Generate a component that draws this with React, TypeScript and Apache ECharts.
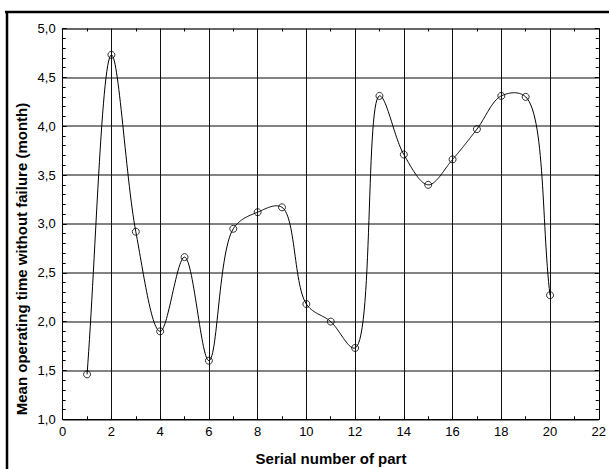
import React, { useEffect, useRef } from "react";
import * as echarts from "echarts";

const partNumbers = [1, 2, 3, 4, 5, 6, 7, 8, 9, 10, 11, 12, 13, 14, 15, 16, 17, 18, 19, 20];
const meanTime = [1.46, 4.73, 2.92, 1.9, 2.66, 1.6, 2.95, 3.12, 3.17, 2.18, 2.0, 1.73, 4.31, 3.71, 3.4, 3.66, 3.97, 4.31, 4.3, 2.27];
const xTitle = "Serial number of part";
const yTitle = "Mean operating time without failure (month)";

export default function App() {
  const ref = useRef<HTMLDivElement>(null);
  useEffect(() => {
    if (!ref.current) return;
    const chart = echarts.init(ref.current, null, { renderer: "svg" });
    const pts = partNumbers.map((x, i) => [x, meanTime[i]]);
    const font = "Liberation Sans";
    const fmt = (v: number) => v.toFixed(1).replace(".", ",");
    const n = partNumbers.length;

    // centripetal Catmull-Rom in pixel space (rendering only)
    const renderSeg = (params: any, api: any) => {
      const i = params.dataIndex;
      if (i >= n - 1) return null;
      const P: number[][] = pts.map((p) => api.coord(p));
      const dt = (a: number, b: number) =>
        Math.sqrt(Math.hypot(P[b][0] - P[a][0], P[b][1] - P[a][1])) || 1e-6;
      const tan = (k: number) => {
        if (k === 0) {
          const d = dt(0, 1);
          return [(P[1][0] - P[0][0]) / d, (P[1][1] - P[0][1]) / d];
        }
        if (k === n - 1) {
          const d = dt(n - 2, n - 1);
          return [(P[n - 1][0] - P[n - 2][0]) / d, (P[n - 1][1] - P[n - 2][1]) / d];
        }
        const d0 = dt(k - 1, k), d1 = dt(k, k + 1);
        const r = [0, 1].map(
          (c) =>
            (P[k][c] - P[k - 1][c]) / d0 -
            (P[k + 1][c] - P[k - 1][c]) / (d0 + d1) +
            (P[k + 1][c] - P[k][c]) / d1
        );
        return r;
      };
      const d = dt(i, i + 1);
      const m0 = tan(i), m1 = tan(i + 1);
      const T0 = [m0[0] * d, m0[1] * d];
      const T1 = [m1[0] * d, m1[1] * d];
      const A = P[i], B = P[i + 1];
      const line: number[][] = [];
      const steps = 30;
      for (let s = 0; s <= steps; s++) {
        const t = s / steps;
        const t2 = t * t, t3 = t2 * t;
        const h00 = 2 * t3 - 3 * t2 + 1, h10 = t3 - 2 * t2 + t, h01 = -2 * t3 + 3 * t2, h11 = t3 - t2;
        line.push([
          h00 * A[0] + h10 * T0[0] + h01 * B[0] + h11 * T1[0],
          h00 * A[1] + h10 * T0[1] + h01 * B[1] + h11 * T1[1],
        ]);
      }
      return {
        type: "polyline",
        shape: { points: line },
        style: { stroke: "#000", lineWidth: 1, fill: "none" },
      };
    };

    chart.setOption({
      animation: false,
      backgroundColor: "#ffffff",
      textStyle: { fontFamily: font },
      grid: { left: 62.7, right: 9.7, top: 28.5, bottom: 49.7, containLabel: false },
      graphic: [
        { type: "line", shape: { x1: 5, y1: 12, x2: 609, y2: 12 }, style: { stroke: "#000", lineWidth: 2.5 } },
        { type: "line", shape: { x1: 7, y1: 11, x2: 7, y2: 469 }, style: { stroke: "#000", lineWidth: 2.5 } },
        {
          type: "text", x: 331, y: 458,
          style: { text: xTitle, align: "center", verticalAlign: "middle", fill: "#000", font: `bold 15px "${font}"` },
        },
        {
          type: "text", x: 21, y: 259, rotation: Math.PI / 2,
          style: { text: yTitle, align: "center", verticalAlign: "middle", fill: "#000", font: `bold 15px "${font}"` },
        },
      ],
      xAxis: [
        {
          type: "value", min: 0, max: 22, interval: 2, position: "bottom",
          axisLine: { show: true, onZero: false, lineStyle: { color: "#000", width: 1 } },
          axisTick: { show: true, inside: true, length: 4, lineStyle: { color: "#000" } },
          minorTick: { show: true, splitNumber: 2, length: 3, lineStyle: { color: "#000" } },
          splitLine: { show: true, lineStyle: { color: "#111", width: 1 } },
          axisLabel: { color: "#000", fontSize: 13, fontFamily: font, margin: 6 },
        },
        {
          type: "value", min: 0, max: 22, interval: 2, position: "top",
          axisLine: { show: true, onZero: false, lineStyle: { color: "#666", width: 2 } },
          axisTick: { show: true, inside: true, length: 4, lineStyle: { color: "#000" } },
          minorTick: { show: true, splitNumber: 2, length: 3, lineStyle: { color: "#000" } },
          splitLine: { show: false },
          axisLabel: { show: false },
        },
      ],
      yAxis: [
        {
          type: "value", min: 1, max: 5, interval: 0.5, position: "left",
          axisLine: { show: true, onZero: false, lineStyle: { color: "#000", width: 1 } },
          axisTick: { show: true, inside: true, length: 4, lineStyle: { color: "#000" } },
          minorTick: { show: true, splitNumber: 5, length: 3, lineStyle: { color: "#000" } },
          splitLine: { show: true, lineStyle: { color: "#5a5a5a", width: 1.6 } },
          axisLabel: { color: "#000", fontSize: 13, fontFamily: font, margin: 7, formatter: fmt },
        },
        {
          type: "value", min: 1, max: 5, interval: 0.5, position: "right",
          axisLine: { show: true, onZero: false, lineStyle: { color: "#000", width: 1 } },
          axisTick: { show: true, inside: true, length: 4, lineStyle: { color: "#000" } },
          minorTick: { show: true, splitNumber: 5, length: 3, lineStyle: { color: "#000" } },
          splitLine: { show: false },
          axisLabel: { show: false },
        },
      ],
      series: [
        {
          type: "custom",
          coordinateSystem: "cartesian2d",
          xAxisIndex: 0, yAxisIndex: 0,
          data: pts,
          z: 3,
          silent: true,
          renderItem: renderSeg,
        },
        {
          type: "scatter",
          xAxisIndex: 0, yAxisIndex: 0,
          data: pts,
          symbol: "circle",
          symbolSize: 7,
          z: 4,
          itemStyle: { color: "rgba(255,255,255,0)", borderColor: "#000", borderWidth: 1 },
        },
      ],
    });
    return () => chart.dispose();
  }, []);
  return (
    <div
      ref={ref}
      style={{ position: "fixed", left: 0, top: 0, width: 609, height: 469, background: "#fff" }}
    />
  );
}
